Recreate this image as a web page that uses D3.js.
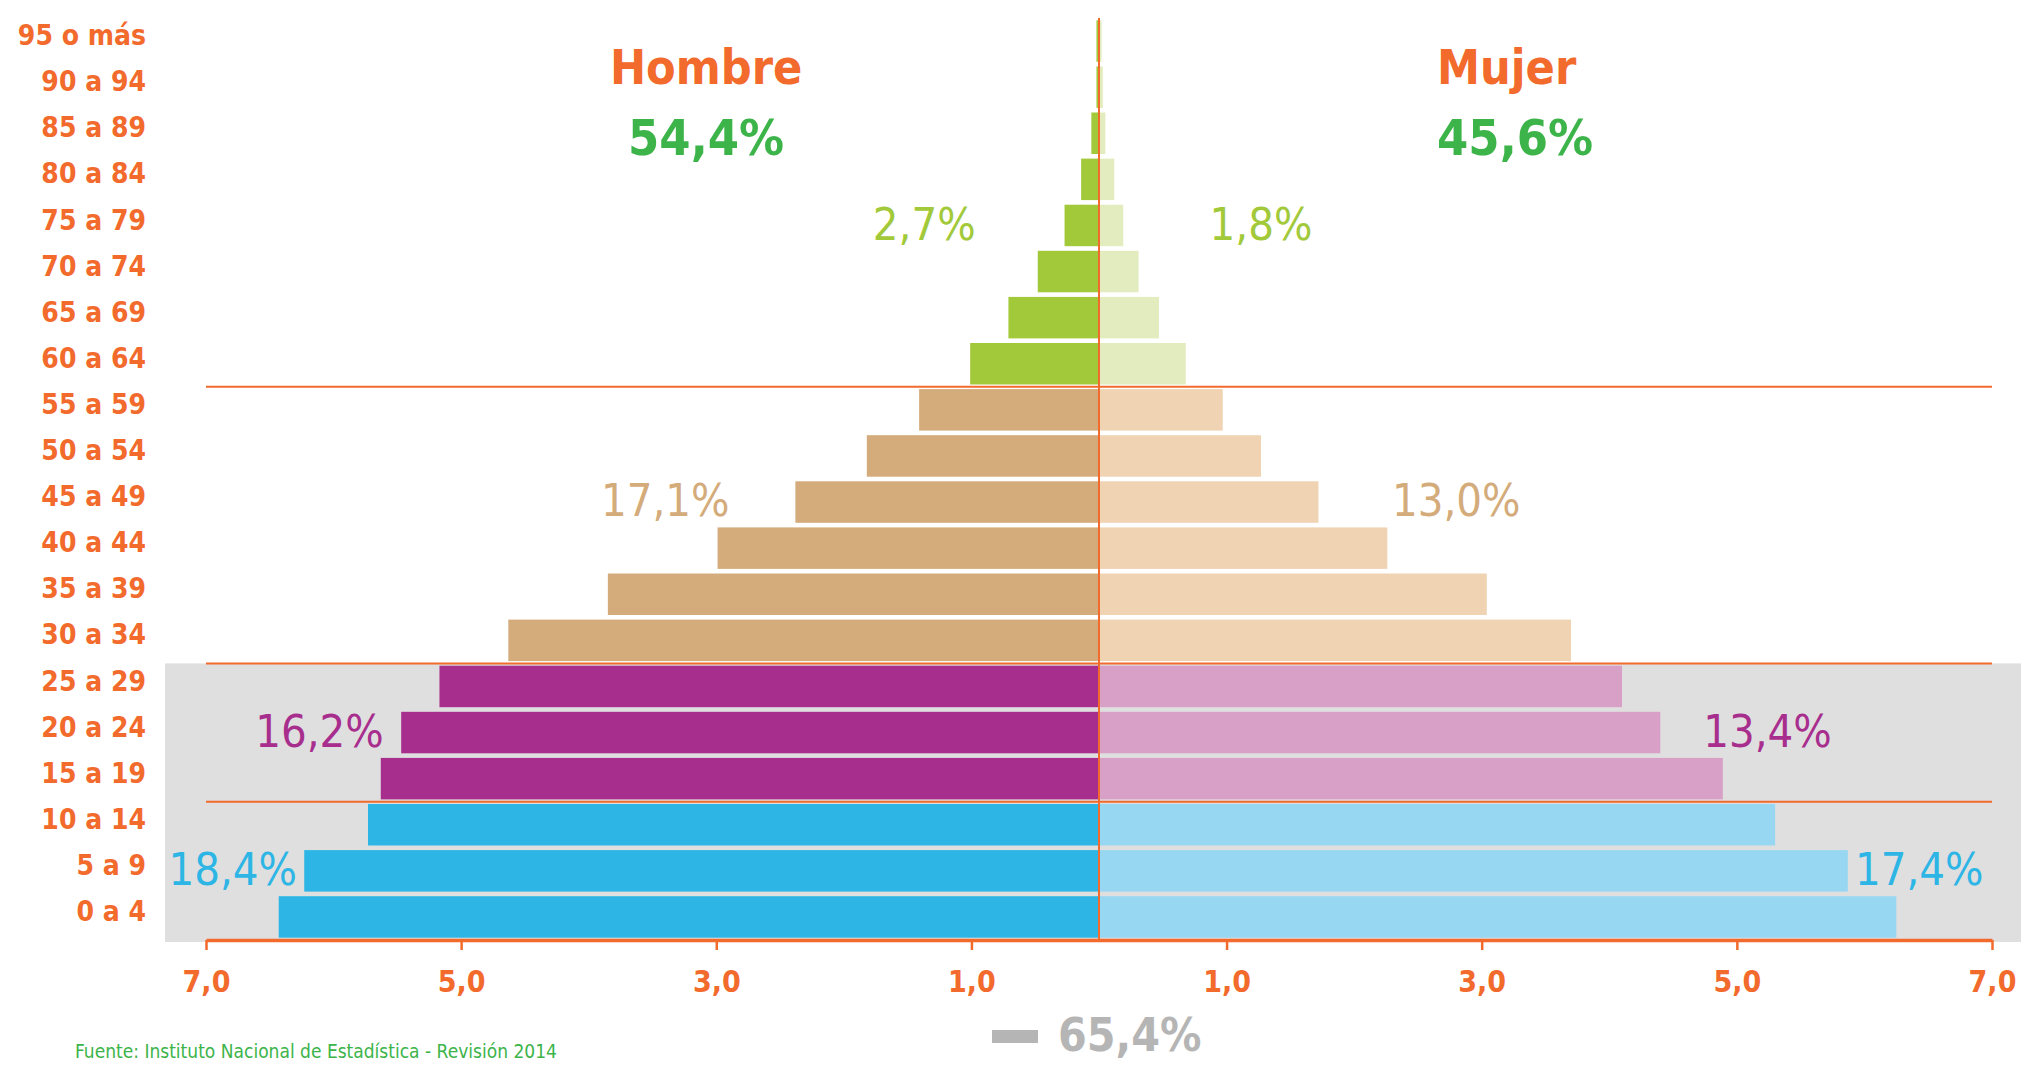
<!DOCTYPE html>
<html>
<head>
<meta charset="utf-8">
<script src="https://cdn.jsdelivr.net/npm/d3@7"></script>
<style>
  body { margin: 0; background: #fff; }
  text { font-family: "DejaVu Sans Condensed", "DejaVu Sans", sans-serif; font-stretch: condensed; }
</style>
</head>
<body>
<div id="chart"></div>
<script>
// data (top to bottom)
const ages = ["95 o más", "90 a 94", "85 a 89", "80 a 84", "75 a 79", "70 a 74", "65 a 69", "60 a 64",
  "55 a 59", "50 a 54", "45 a 49", "40 a 44", "35 a 39", "30 a 34",
  "25 a 29", "20 a 24", "15 a 19", "10 a 14", "5 a 9", "0 a 4"];
const hombres = [0.02, 0.02, 0.06, 0.14, 0.27, 0.48, 0.71, 1.01,
  1.41, 1.82, 2.38, 2.99, 3.85, 4.63,
  5.17, 5.47, 5.63, 5.73, 6.23, 6.43];
const mujeres = [0.02, 0.03, 0.05, 0.12, 0.19, 0.31, 0.47, 0.68,
  0.97, 1.27, 1.72, 2.26, 3.04, 3.70,
  4.10, 4.40, 4.89, 5.30, 5.87, 6.25];
const grupo = [0, 0, 0, 0, 0, 0, 0, 0, 1, 1, 1, 1, 1, 1, 2, 2, 2, 3, 3, 3];
const grupoHombre = ["2,7%", "17,1%", "16,2%", "18,4%"];
const grupoMujer = ["1,8%", "13,0%", "13,4%", "17,4%"];
const totalHombre = "54,4%";
const totalMujer = "45,6%";
const gris = "65,4%";
const ticks = [-7, -5, -3, -1, 1, 3, 5, 7];

const width = 2021, height = 1065;
const orange = "#f26a2c";
const colorH = ["#a2c93a", "#d4ab7a", "#a82e8e", "#2db6e5"];
const colorM = ["#e2ecbf", "#f0d3b2", "#d89fc7", "#98d7f2"];

const svg = d3.select("#chart").append("svg")
  .attr("width", width)
  .attr("height", height);

const x = d3.scaleLinear().domain([-7, 7]).range([206, 1992]);
const y = d3.scaleBand().domain(ages).range([18, 940]).paddingInner(0.1).paddingOuter(0.05);
const gap = (y.step() - y.bandwidth()) / 2;

// gray band behind 0-29
svg.append("rect")
  .attr("x", 165)
  .attr("y", y("25 a 29") - gap)
  .attr("width", width - 165)
  .attr("height", 942 - (y("25 a 29") - gap))
  .attr("fill", "#e0dfe0");

// bars
svg.selectAll("rect.h")
  .data(ages)
  .join("rect")
  .attr("class", "h")
  .attr("x", (d, i) => x(-hombres[i]))
  .attr("y", d => y(d))
  .attr("width", (d, i) => x(0) - x(-hombres[i]))
  .attr("height", y.bandwidth())
  .attr("fill", (d, i) => colorH[grupo[i]]);

svg.selectAll("rect.m")
  .data(ages)
  .join("rect")
  .attr("class", "m")
  .attr("x", x(0))
  .attr("y", d => y(d))
  .attr("width", (d, i) => x(mujeres[i]) - x(0))
  .attr("height", y.bandwidth())
  .attr("fill", (d, i) => colorM[grupo[i]]);

// separator lines between groups
svg.selectAll("line.sep")
  .data(["55 a 59", "25 a 29", "10 a 14"])
  .join("line")
  .attr("class", "sep")
  .attr("x1", x(-7))
  .attr("x2", x(7))
  .attr("y1", d => y(d) - gap)
  .attr("y2", d => y(d) - gap)
  .attr("stroke", orange)
  .attr("stroke-width", 2);

// center line
svg.append("line")
  .attr("x1", x(0)).attr("x2", x(0))
  .attr("y1", 18).attr("y2", 940)
  .attr("stroke", orange)
  .attr("stroke-width", 2);

// age labels
svg.selectAll("text.age")
  .data(ages)
  .join("text")
  .attr("class", "age")
  .attr("x", 146)
  .attr("y", d => y(d) + y.bandwidth() / 2 - 6)
  .attr("dy", "0.36em")
  .attr("text-anchor", "end")
  .attr("fill", orange)
  .attr("font-weight", "bold")
  .attr("font-size", 28)
  .text(d => d);

// x axis
const xAxis = d3.axisBottom(x)
  .tickValues(ticks)
  .tickSize(10)
  .tickSizeOuter(0)
  .tickPadding(21)
  .tickFormat(d => Math.abs(d).toFixed(1).replace(".", ","));

const xAxisGroup = svg.append("g")
  .attr("transform", `translate(0, 940)`)
  .call(xAxis);
xAxisGroup.select(".domain").attr("stroke", orange).attr("stroke-width", 3.5);
xAxisGroup.selectAll(".tick line").attr("stroke", orange).attr("stroke-width", 2.5);
xAxisGroup.selectAll(".tick text")
  .attr("fill", orange)
  .attr("font-size", 30)
  .attr("font-weight", "bold")
  .attr("font-family", null);

// titles
svg.append("text")
  .attr("x", x(-3.08)).attr("y", 67).attr("dy", "0.36em")
  .attr("text-anchor", "middle")
  .attr("fill", orange).attr("font-weight", "bold").attr("font-size", 48)
  .text("Hombre");
svg.append("text")
  .attr("x", x(-3.08)).attr("y", 137).attr("dy", "0.36em")
  .attr("text-anchor", "middle")
  .attr("fill", "#3cb44a").attr("font-weight", "bold").attr("font-size", 50)
  .text(totalHombre);
svg.append("text")
  .attr("x", x(2.65)).attr("y", 67).attr("dy", "0.36em")
  .attr("fill", orange).attr("font-weight", "bold").attr("font-size", 48)
  .text("Mujer");
svg.append("text")
  .attr("x", x(2.65)).attr("y", 137).attr("dy", "0.36em")
  .attr("fill", "#3cb44a").attr("font-weight", "bold").attr("font-size", 50)
  .text(totalMujer);

// group share labels: row and horizontal position (axis units)
const grupoFila = ["75 a 79", "45 a 49", "20 a 24", "5 a 9"];
const posH = [-1.37, -3.40, -6.11, -6.79];
const posM = [1.27, 2.80, 5.24, 6.43];

svg.selectAll("text.gh")
  .data(grupoHombre)
  .join("text")
  .attr("class", "gh")
  .attr("x", (d, i) => x(posH[i]))
  .attr("y", (d, i) => y(grupoFila[i]) + y.bandwidth() / 2 - 2)
  .attr("dy", "0.36em")
  .attr("text-anchor", "middle")
  .attr("fill", (d, i) => colorH[i])
  .attr("font-size", 45)
  .text(d => d);

svg.selectAll("text.gm")
  .data(grupoMujer)
  .join("text")
  .attr("class", "gm")
  .attr("x", (d, i) => x(posM[i]))
  .attr("y", (d, i) => y(grupoFila[i]) + y.bandwidth() / 2 - 2)
  .attr("dy", "0.36em")
  .attr("text-anchor", "middle")
  .attr("fill", (d, i) => colorH[i])
  .attr("font-size", 45)
  .text(d => d);

// gray legend
svg.append("rect")
  .attr("x", 992).attr("y", 1030)
  .attr("width", 46).attr("height", 13)
  .attr("fill", "#b5b5b5");
svg.append("text")
  .attr("x", 1058).attr("y", 1034).attr("dy", "0.36em")
  .attr("fill", "#b5b5b5").attr("font-weight", "bold").attr("font-size", 46)
  .text(gris);

// source
svg.append("text")
  .attr("x", 75).attr("y", 1058)
  .attr("fill", "#3cb44a").attr("font-size", 19)
  .text("Fuente: Instituto Nacional de Estadística - Revisión 2014");
</script>
</body>
</html>
